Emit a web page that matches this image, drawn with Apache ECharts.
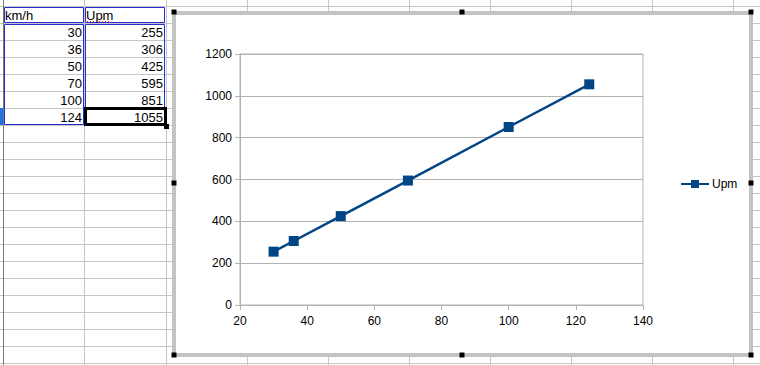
<!DOCTYPE html>
<html>
<head>
<meta charset="utf-8">
<script src="https://cdn.jsdelivr.net/npm/echarts@6/dist/echarts.min.js"></script>
<style>
html,body{margin:0;padding:0;background:#fff;}
#c{width:760px;height:365px;}
</style>
</head>
<body>
<div id="c"></div>
<script>
// ---- data ----
var headers = ['km/h', 'Upm'];
var kmh = [30, 36, 50, 70, 100, 124];
var upm = [255, 306, 425, 595, 851, 1055];
var seriesName = 'Upm';
var xTicks = [20, 40, 60, 80, 100, 120, 140];
var yTicks = [0, 200, 400, 600, 800, 1000, 1200];

// ---- build ----
var FONT = "'Liberation Sans', Arial, sans-serif";
var GRID_C = '#c6c6c6';
var g = [];

// spreadsheet grid
var rowTop = 6, rowH = 17;
for (var k = 0; k <= 21; k++) {
  var y = rowTop + rowH * k + 0.5;
  g.push({type:'line', z:-30, shape:{x1:0, y1:y, x2:760, y2:y}, style:{stroke:GRID_C, lineWidth:1}, silent:true});
}
var colX = [84, 166, 247, 328, 409, 490, 571, 652, 733];
colX.forEach(function(x){
  g.push({type:'line', z:-30, shape:{x1:x+0.5, y1:0, x2:x+0.5, y2:365}, style:{stroke:GRID_C, lineWidth:1}, silent:true});
});
// row header border
g.push({type:'line', z:-29, shape:{x1:3.5, y1:0, x2:3.5, y2:365}, style:{stroke:'#7a7a7a', lineWidth:1}, silent:true});
// selected row marker
g.push({type:'rect', z:-29, shape:{x:0, y:108, width:3, height:17}, style:{fill:'#1a73e8'}, silent:true});

// chart frame
g.push({type:'rect', z:-20, shape:{x:174, y:13, width:577, height:342}, style:{fill:'#ffffff', stroke:'#c3c3c3', lineWidth:4}, silent:true});
var handles = [[174,12],[462,12],[751,12],[174,183],[751,183],[174,355],[462,355],[751,355]];
handles.forEach(function(h){
  g.push({type:'rect', z:50, shape:{x:h[0]-2.5, y:h[1]-2.5, width:5, height:5}, style:{fill:'#000'}, silent:true});
});

// table borders
var BLUE = '#2a2ad0';
g.push({type:'rect', z:-10, shape:{x:4.5, y:7.5, width:79, height:15}, style:{fill:'none', stroke:BLUE, lineWidth:1}, silent:true});
g.push({type:'rect', z:-10, shape:{x:85.5, y:7.5, width:79, height:15}, style:{fill:'none', stroke:BLUE, lineWidth:1}, silent:true});
g.push({type:'rect', z:-10, shape:{x:4.5, y:24.5, width:79, height:100}, style:{fill:'none', stroke:BLUE, lineWidth:1}, silent:true});
g.push({type:'rect', z:-10, shape:{x:85.5, y:24.5, width:79, height:100}, style:{fill:'none', stroke:BLUE, lineWidth:1}, silent:true});

// table text
g.push({type:'text', z:-5, x:5, y:15, style:{text:headers[0], font:'13px '+FONT, fill:'#000', textVerticalAlign:'middle', verticalAlign:'middle'}, silent:true});
g.push({type:'text', z:-5, x:86, y:15, style:{text:headers[1], font:'13px '+FONT, fill:'#000', textVerticalAlign:'middle', verticalAlign:'middle'}, silent:true});
g.push({type:'line', z:-4, shape:{x1:87, y1:21.5, x2:110, y2:21.5}, style:{stroke:'#e02020', lineWidth:1, lineDash:[1,2]}, silent:true});
for (var i = 0; i < kmh.length; i++) {
  var cy = 23 + rowH * i + 9;
  g.push({type:'text', z:-5, x:82, y:cy, style:{text:String(kmh[i]), font:'13px '+FONT, fill:'#000', align:'right', textAlign:'right', verticalAlign:'middle', textVerticalAlign:'middle'}, silent:true});
  g.push({type:'text', z:-5, x:163, y:cy, style:{text:String(upm[i]), font:'13px '+FONT, fill:'#000', align:'right', textAlign:'right', verticalAlign:'middle', textVerticalAlign:'middle'}, silent:true});
}
// selected cell
g.push({type:'rect', z:-3, shape:{x:85.5, y:108.5, width:80, height:16}, style:{fill:'none', stroke:'#000', lineWidth:3}, silent:true});
g.push({type:'rect', z:-2, shape:{x:164, y:124, width:5, height:5}, style:{fill:'#000'}, silent:true});

var points = kmh.map(function(v, i){ return [v, upm[i]]; });
var plain = function(v){ return String(v); };

var chart = echarts.init(document.getElementById('c'), null, {renderer:'svg', width:760, height:365});
chart.setOption({
  animation: false,
  backgroundColor: '#ffffff',
  textStyle: {fontFamily: FONT},
  graphic: g,
  grid: {left:240, top:54, width:403, height:251, show:true, borderColor:'#b3b3b3', borderWidth:1, backgroundColor:'transparent', containLabel:false},
  legend: {
    data: [seriesName], left: 680, top: 178, padding: 0, itemWidth: 28, itemHeight: 10, itemGap: 4,
    textStyle: {fontSize: 12, color: '#000', fontFamily: FONT, padding:[0,0,0,-2]}
  },
  xAxis: {
    type: 'value', min: xTicks[0], max: xTicks[xTicks.length-1], interval: xTicks[1]-xTicks[0],
    axisLine: {show:true, lineStyle:{color:'#b3b3b3', width:1}},
    axisTick: {show:true, length:5, lineStyle:{color:'#b3b3b3'}},
    splitLine: {show:false},
    axisLabel: {color:'#000', fontSize:12, margin:10, fontFamily: FONT, formatter: plain}
  },
  yAxis: {
    type: 'value', min: yTicks[0], max: yTicks[yTicks.length-1], interval: yTicks[1]-yTicks[0],
    axisLine: {show:true, lineStyle:{color:'#b3b3b3', width:1}},
    axisTick: {show:true, length:5, lineStyle:{color:'#b3b3b3'}},
    splitLine: {show:true, lineStyle:{color:'#b3b3b3', width:1}},
    axisLabel: {color:'#000', fontSize:12, margin:8, fontFamily: FONT, formatter: plain}
  },
  series: [{
    name: seriesName, type: 'line', data: points,
    symbol: 'rect', symbolSize: 10, showAllSymbol: true,
    lineStyle: {color:'#004586', width:2.5},
    itemStyle: {color:'#004586'},
    emphasis: {disabled:true}
  }]
});
</script>
</body>
</html>
